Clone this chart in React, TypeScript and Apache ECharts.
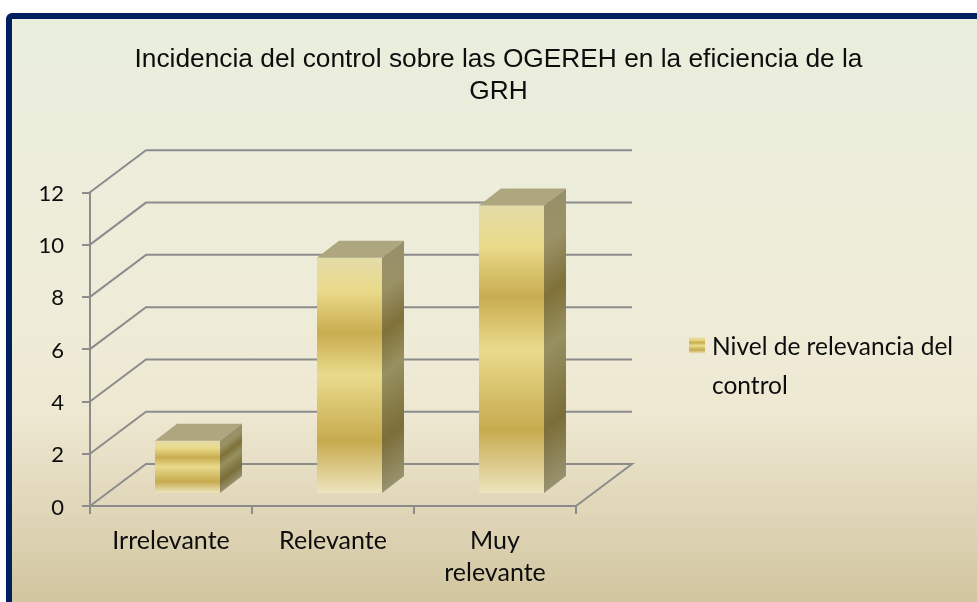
import React, { useEffect, useRef } from "react";
import * as echarts from "echarts";

const titleText = "Incidencia del control sobre las OGEREH en la eficiencia de la\nGRH";
const categories = ["Irrelevante", "Relevante", "Muy\nrelevante"];
const seriesName = "Nivel de relevancia del control";
const legendLine1 = "Nivel de relevancia del";
const legendLine2 = "control";
const values = [2, 9, 11];
const yTicks = [0, 2, 4, 6, 8, 10, 12];

const WALL_DX = 56;
const WALL_DY = 42;
const BAR_W = 65;
const BAR_DX = 22;
const BAR_DY = 17;
const BAR_OFF_X = 16.5;
const BAR_OFF_Y = 13;
const LINE = "#8c8c8c";
const FONT = "Lato";
const INK = "#0d0d0d";

const frontStops = [
  { offset: 0, color: "#E4DCA8" },
  { offset: 0.14, color: "#E9DA8A" },
  { offset: 0.32, color: "#C9AC50" },
  { offset: 0.5, color: "#E9DB8C" },
  { offset: 0.78, color: "#C7AA4E" },
  { offset: 1, color: "#EDE5BE" },
];
const sideStops = [
  { offset: 0, color: "#979068" },
  { offset: 0.14, color: "#9A9166" },
  { offset: 0.32, color: "#7F7138" },
  { offset: 0.5, color: "#979060" },
  { offset: 0.78, color: "#7B6E38" },
  { offset: 1, color: "#98926F" },
];
const bgStops = [
  { offset: 0, color: "#E9EEDD" },
  { offset: 0.5, color: "#EEECD8" },
  { offset: 0.68, color: "#EEE8D2" },
  { offset: 0.85, color: "#E0D6B8" },
  { offset: 1, color: "#D2C6A0" },
];

export default function App() {
  const ref = useRef<HTMLDivElement>(null);
  useEffect(() => {
    const chart = echarts.init(ref.current!, null, { renderer: "svg" });
    chart.setOption({
      animation: false,
      textStyle: { fontFamily: FONT },
      title: {
        text: titleText,
        left: 493.5,
        top: 37,
        textAlign: "center",
        textStyle: {
          fontFamily: "Liberation Sans",
          fontSize: 26.3,
          fontWeight: "normal",
          color: INK,
          lineHeight: 32,
        },
      },
      legend: {
        left: 689,
        top: 333,
        padding: 0,
        orient: "vertical",
        itemWidth: 16,
        itemHeight: 16,
        itemGap: 0,
        data: [
          {
            name: seriesName,
            icon: "rect",
            itemStyle: { color: new echarts.graphic.LinearGradient(0, 0, 0, 1, frontStops) },
          },
        ],
        formatter: () => legendLine1,
        textStyle: { fontFamily: FONT, fontSize: 24.5, color: INK, padding: [0, 0, 0, 2] },
      },
      graphic: [
        {
          type: "rect",
          z: -10,
          shape: { x: 9, y: 16, width: 1000, height: 620, r: 3 },
          style: {
            fill: new echarts.graphic.LinearGradient(0, 0, 0, 0.94, bgStops),
            stroke: "#002060",
            lineWidth: 6,
          },
        },
        {
          type: "text",
          left: 712,
          top: 372,
          style: { text: legendLine2, fontFamily: FONT, fontSize: 24.5, fill: INK },
        },
      ],
      grid: { left: 90, top: 192.3, width: 486, height: 313.7 },
      xAxis: {
        type: "category",
        data: categories,
        axisLine: { lineStyle: { color: LINE, width: 2 } },
        axisTick: { show: true, length: 8, alignWithLabel: false, lineStyle: { color: LINE, width: 2 } },
        axisLabel: { fontFamily: FONT, fontSize: 25, color: INK, margin: 17, lineHeight: 32, interval: 0 },
        splitLine: { show: false },
      },
      yAxis: {
        type: "value",
        min: 0,
        max: 12,
        interval: 2,
        axisLine: { show: true, lineStyle: { color: LINE, width: 2 } },
        axisTick: { show: true, length: 8, lineStyle: { color: LINE, width: 2 } },
        axisLabel: { fontFamily: FONT, fontSize: 22, color: INK, margin: 26 },
        splitLine: { show: false },
      },
      series: [
        {
          type: "custom",
          name: "walls",
          silent: true,
          z: 1,
          data: yTicks.map((t) => [t]),
          renderItem: (params: any, api: any) => {
            const v = api.value(0);
            const cs = params.coordSys;
            const y = api.coord([0, v])[1];
            const x0 = cs.x;
            const x1 = cs.x + cs.width;
            const pts =
              v === 0
                ? [
                    [x0, y],
                    [x0 + WALL_DX, y - WALL_DY],
                    [x1 + WALL_DX, y - WALL_DY],
                    [x1, y],
                  ]
                : [
                    [x0, y],
                    [x0 + WALL_DX, y - WALL_DY],
                    [x1 + WALL_DX, y - WALL_DY],
                  ];
            return {
              type: "polyline",
              shape: { points: pts },
              style: { stroke: LINE, lineWidth: 2, fill: "none" },
            };
          },
        },
        {
          type: "custom",
          name: seriesName,
          z: 3,
          data: values.map((v, i) => [i, v]),
          renderItem: (_p: any, api: any) => {
            const i = api.value(0);
            const c = api.coord([i, 0]);
            const t = api.coord([i, api.value(1)]);
            const xl = c[0] + BAR_OFF_X - BAR_W / 2;
            const xr = xl + BAR_W;
            const yb = c[1] - BAR_OFF_Y;
            const yt = t[1] - BAR_OFF_Y;
            const h = yb - yt;
            const b = h / (1 + (BAR_DY / BAR_DX) ** 2);
            const a = (b * BAR_DY) / BAR_DX;
            return {
              type: "group",
              children: [
                {
                  type: "rect",
                  shape: { x: xl, y: yt, width: BAR_W, height: h },
                  style: { fill: new echarts.graphic.LinearGradient(0, 0, 0, 1, frontStops) },
                },
                {
                  type: "polygon",
                  shape: {
                    points: [
                      [xl, yt],
                      [xl + BAR_DX, yt - BAR_DY],
                      [xr + BAR_DX, yt - BAR_DY],
                      [xr, yt],
                    ],
                  },
                  style: { fill: "#AEA67F" },
                },
                {
                  type: "polygon",
                  shape: {
                    points: [
                      [xr, yt],
                      [xr + BAR_DX, yt - BAR_DY],
                      [xr + BAR_DX, yb - BAR_DY],
                      [xr, yb],
                    ],
                  },
                  style: {
                    fill: new echarts.graphic.LinearGradient(xr, yt, xr + a, yt + b, sideStops, true),
                  },
                },
              ],
            };
          },
        },
      ],
    });
    return () => chart.dispose();
  }, []);
  return <div ref={ref} style={{ position: "fixed", left: 0, top: 0, width: 977, height: 602 }} />;
}
